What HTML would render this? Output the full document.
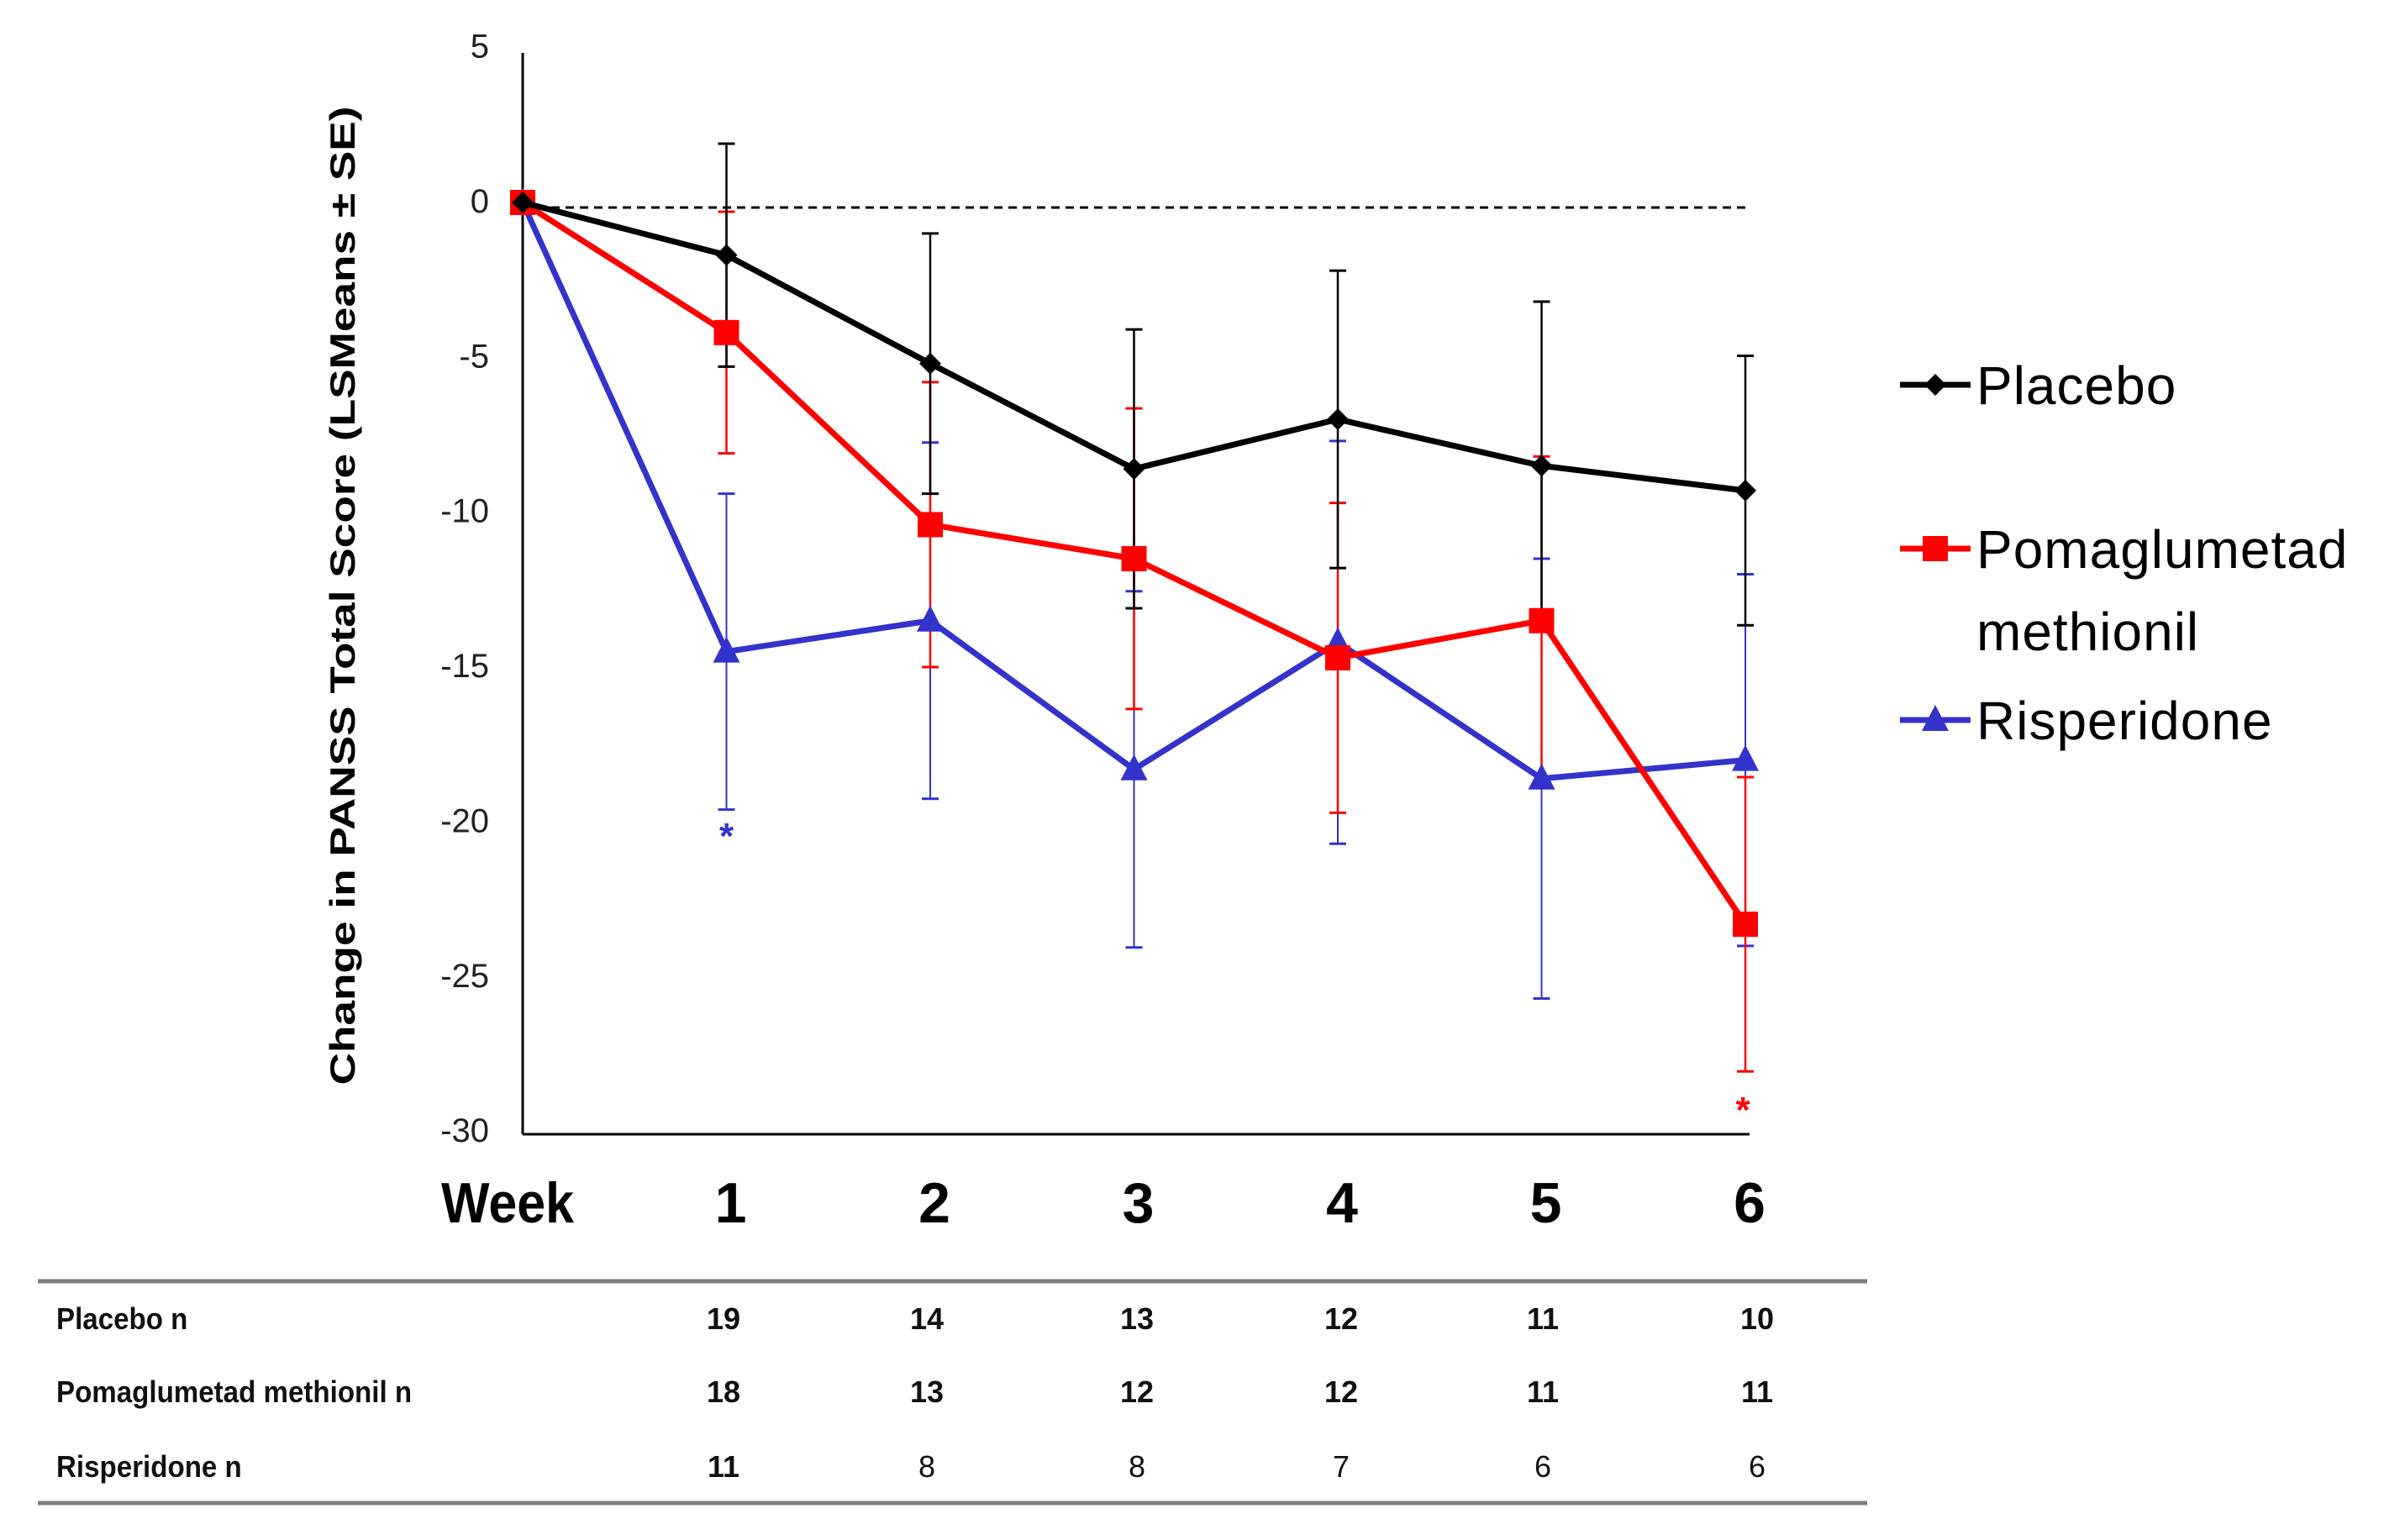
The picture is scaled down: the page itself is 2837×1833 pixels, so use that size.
<!DOCTYPE html>
<html><head><meta charset="utf-8"><style>
html,body{margin:0;padding:0;background:#fff}
svg{display:block}
</style></head><body>
<svg id="chart" width="2837" height="1833" viewBox="0 0 2837 1833" xmlns="http://www.w3.org/2000/svg" font-family="Liberation Sans, Arial, sans-serif"></svg>
<script>
const weeks = [0,1,2,3,4,5,6];
const placebo = [0,-1.7,-5.2,-8.6,-7.0,-8.5,-9.3];
const placeboSE = [0,3.6,4.2,4.5,4.8,5.3,4.35];
const pomag = [0,-4.2,-10.4,-11.5,-14.7,-13.5,-23.3];
const pomagSE = [0,3.9,4.6,4.85,5.0,5.3,4.75];
const risp = [0,-14.5,-13.5,-18.3,-14.2,-18.6,-18.0];
const rispSE = [0,5.1,5.75,5.75,6.5,7.1,6.0];
const yTicks = [5,0,-5,-10,-15,-20,-25,-30];
const nPlacebo = ['19','14','13','12','11','10'];
const nPomag = ['18','13','12','12','11','11'];
const nRisp = ['11','8','8','7','6','6'];

const NS='http://www.w3.org/2000/svg';
const svg=document.getElementById('chart');
const X0=622, DX=242.5, Y0=241, PU=36.87;
function xs(w){return X0+w*DX;}
function ys(v){return Y0-v*PU;}
function el(tag,attrs,parent){const e=document.createElementNS(NS,tag);for(const k in attrs)e.setAttribute(k,attrs[k]);(parent||svg).appendChild(e);return e;}
function txt(s,attrs,parent){const e=el('text',attrs,parent);e.textContent=s;return e;}

let a=el('line',{x1:X0,y1:63,x2:X0,y2:1350,stroke:'#000','stroke-width':3});


a=el('line',{x1:X0,y1:1350,x2:2082,y2:1350,stroke:'#000','stroke-width':3});


a=el('line',{x1:X0,y1:ys(0)+6,x2:2080,y2:ys(0)+6,stroke:'#000','stroke-width':3,'stroke-dasharray':'10,7'});



yTicks.forEach(t=>{
  const e=txt(String(t),{x:582,y:ys(t)+12,'font-size':40,fill:'#222','text-anchor':'end'});
  
  
});
let yt=txt('Change in PANSS Total Score (LSMeans ± SE)',{x:0,y:0,'font-size':42,'font-weight':'bold',fill:'#000','text-anchor':'middle',textLength:1165,lengthAdjust:'spacingAndGlyphs',transform:'translate(422,709) rotate(-90)'});



let wk=txt('Week',{x:525,y:1455,'font-size':68,'font-weight':'bold',textLength:158,lengthAdjust:'spacingAndGlyphs'});


weeks.slice(1).forEach(w=>{
  const e=txt(String(w),{x:xs(w)+5,y:1455,'font-size':68,'font-weight':'bold','text-anchor':'middle'});
  
  
});

const series=[
 {name:'risperidone',vals:risp,se:rispSE,color:'#3333cc',m:'tri',ew:2},
 {name:'pomaglumetad',vals:pomag,se:pomagSE,color:'#ff0000',m:'sq',ew:2.5},
 {name:'placebo',vals:placebo,se:placeboSE,color:'#000',m:'dia',ew:2.5},
];
function marker(type,x,y,color,g){
  if(type==='sq') return el('rect',{x:x-15,y:y-15,width:30,height:30,fill:color},g);
  if(type==='tri') return el('polygon',{points:`${x},${y-18} ${x+16},${y+13} ${x-16},${y+13}`,fill:color},g);
  return el('polygon',{points:`${x},${y-13} ${x+13},${y} ${x},${y+13} ${x-13},${y}`,fill:color},g);
}
series.forEach(s=>{
  const g=el('g',{});
  
  
  weeks.forEach((w,i)=>{
    if(!s.se[i])return;
    const x=xs(w),hi=ys(s.vals[i]+s.se[i]),lo=ys(s.vals[i]-s.se[i]);
    el('line',{x1:x,y1:hi,x2:x,y2:lo,stroke:s.color,'stroke-width':s.ew},g);
    el('line',{x1:x-10,y1:hi,x2:x+10,y2:hi,stroke:s.color,'stroke-width':3},g);
    el('line',{x1:x-10,y1:lo,x2:x+10,y2:lo,stroke:s.color,'stroke-width':3},g);
  });
});
series.forEach(s=>{
  const g=el('g',{});
  
  
  const pts=weeks.map((w,i)=>xs(w)+','+ys(s.vals[i])).join(' ');
  el('polyline',{points:pts,fill:'none',stroke:s.color,'stroke-width':7,'stroke-linejoin':'round'},g);
  weeks.forEach((w,i)=>{
    const m=marker(s.m,xs(w),ys(s.vals[i]),s.color,g);
    
    
  });
});
let st=txt('*',{x:xs(1),y:1010,'font-size':44,'font-weight':'bold',fill:'#3333cc','text-anchor':'middle'});


st=txt('*',{x:xs(6)-3,y:1336,'font-size':44,'font-weight':'bold',fill:'#ff0000','text-anchor':'middle'});



const leg=[{t:['Placebo'],y:458,c:'#000',m:'dia',n:'placebo'},{t:['Pomaglumetad','methionil'],y:653,c:'#ff0000',m:'sq',n:'pomaglumetad'},{t:['Risperidone'],y:857,c:'#3333cc',m:'tri',n:'risperidone'}];
leg.forEach(l=>{
  const g=el('g',{});
  
  
  el('line',{x1:2261,y1:l.y,x2:2345,y2:l.y,stroke:l.c,'stroke-width':7},g);
  marker(l.m,2303,l.y,l.c,g);
  l.t.forEach((t,k)=>txt(t,{x:2352,y:l.y+23+k*98,'font-size':64,'letter-spacing':1,fill:'#000'},g));
});

a=el('line',{x1:45,y1:1525,x2:2222,y2:1525,stroke:'#7f7f7f','stroke-width':5});


a=el('line',{x1:45,y1:1789,x2:2222,y2:1789,stroke:'#7f7f7f','stroke-width':5});


const colX=[861,1103,1353,1596,1836,2091];
const rows=[{l:'Placebo n',v:nPlacebo,y:1582,b:[1,1,1,1,1,1],n:'placebo'},{l:'Pomaglumetad methionil  n',v:nPomag,y:1669,b:[1,1,1,1,1,1],n:'pomaglumetad'},{l:'Risperidone  n',v:nRisp,y:1758,b:[1,0,0,0,0,0],n:'risperidone'}];
rows.forEach(r=>{
  const g=el('g',{});
  
  
  txt(r.l,{x:67,y:r.y,'font-size':36,'font-weight':'bold',fill:'#111',transform:`translate(67,0) scale(0.92,1) translate(-67,0)`},g);
  r.v.forEach((v,i)=>txt(v,{x:colX[i],y:r.y,'font-size':36,'font-weight':r.b[i]?'bold':'normal',fill:'#111','text-anchor':'middle'},g));
});
</script>
</body></html>
